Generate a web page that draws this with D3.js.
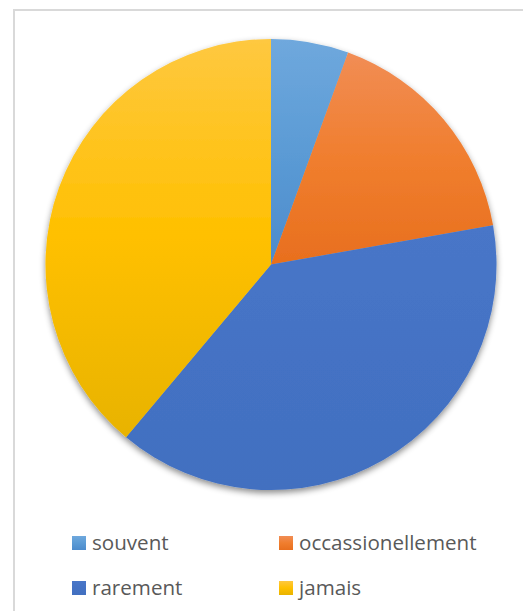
<!DOCTYPE html>
<html>
<head>
<meta charset="utf-8">
<script src="https://cdn.jsdelivr.net/npm/d3@7"></script>
<style>
  html, body { margin: 0; padding: 0; background: #fff; }
  svg { display: block; }
</style>
</head>
<body>
<svg id="chart" width="523" height="611"></svg>
<script>
// Response categories and counts
const categories = ["souvent", "occassionellement", "rarement", "jamais"];
const values = [1, 3, 7, 7];

// Base colour and top/middle/bottom gradient shades per category
const baseColors = ["#5B9BD5", "#ED7D31", "#4472C4", "#FFC000"];
const gradTop    = ["#6FA8DD", "#F18D55", "#4876C8", "#FEC840"];
const gradMid    = ["#5B9BD5", "#F07E2E", "#4472C4", "#FFC000"];
const gradBottom = ["#4C8BCC", "#E86F1E", "#4270C0", "#E8B300"];

const svg = d3.select("#chart");
const defs = svg.append("defs");

// Vertical gradient per category, relative to each shape's box
categories.forEach((c, i) => {
  const g = defs.append("linearGradient")
    .attr("id", "grad" + i)
    .attr("x1", 0).attr("y1", 0).attr("x2", 0).attr("y2", 1);
  g.append("stop").attr("offset", "0%").attr("stop-color", gradTop[i]);
  g.append("stop").attr("offset", "50%").attr("stop-color", gradMid[i]);
  g.append("stop").attr("offset", "100%").attr("stop-color", gradBottom[i]);
});

// Soft drop shadow under the pie
const f = defs.append("filter").attr("id", "shadow")
  .attr("x", "-10%").attr("y", "-10%").attr("width", "120%").attr("height", "125%");
f.append("feDropShadow")
  .attr("dx", 0).attr("dy", 3).attr("stdDeviation", 3)
  .attr("flood-color", "#000").attr("flood-opacity", 0.45);

// Chart area border
svg.append("rect")
  .attr("x", 14).attr("y", 10)
  .attr("width", 540).attr("height", 640)
  .attr("fill", "#fff")
  .attr("stroke", "#d9d9d9").attr("stroke-width", 2);

// Pie
const cx = 271, cy = 264.5, radius = 225.5;
const pie = d3.pie().sort(null).value(d => d.value);
const arc = d3.arc().innerRadius(0).outerRadius(radius);
const data = categories.map((c, i) => ({ name: c, value: values[i], idx: i }));

const pieG = svg.append("g")
  .attr("transform", `translate(${cx},${cy})`)
  .attr("filter", "url(#shadow)");

pieG.selectAll("path")
  .data(pie(data))
  .join("path")
  .attr("d", arc)
  .attr("fill", d => `url(#grad${d.data.idx})`);

// Legend: two columns, two rows
const colX = [72, 279];
const rowY = [536, 581];
const sw = 14;
const legend = svg.append("g").attr("class", "legend");
data.forEach((d, i) => {
  const x = colX[i % 2], y = rowY[Math.floor(i / 2)];
  const item = legend.append("g").attr("transform", `translate(${x},${y})`);
  item.append("rect")
    .attr("width", sw).attr("height", sw)
    .attr("fill", `url(#grad${i})`);
  item.append("text")
    .attr("x", sw + 6).attr("y", sw)
    .attr("fill", "#595959")
    .attr("font-family", "'Open Sans', 'Liberation Sans', sans-serif")
    .attr("font-size", 20.6)
    .text(d.name);
});
</script>
</body>
</html>
